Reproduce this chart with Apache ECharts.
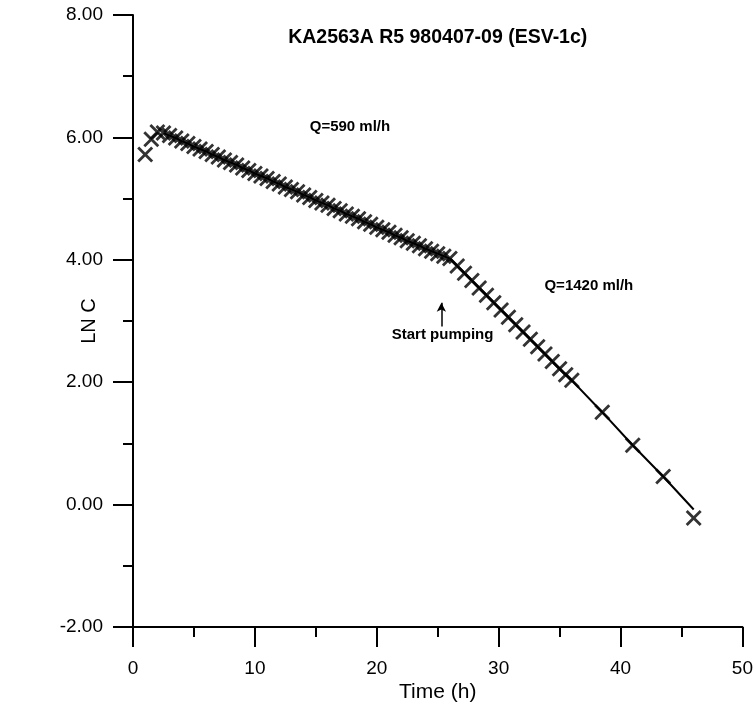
<!DOCTYPE html>
<html>
<head>
<meta charset="utf-8">
<script src="https://cdn.jsdelivr.net/npm/echarts@6/dist/echarts.min.js"></script>
<style>
  html, body { margin: 0; padding: 0; background: #fff; }
  #chart { width: 756px; height: 709px; }
</style>
</head>
<body>
<div id="chart"></div>
<script>
// Tracer concentration (natural log) versus time, KA2563A R5
const timeH = [
  1.0, 1.5, 2.0,
  2.5, 3.0, 3.5, 4.0, 4.5, 5.0, 5.5, 6.0, 6.5, 7.0, 7.5, 8.0, 8.5, 9.0, 9.5, 10.0,
  10.5, 11.0, 11.5, 12.0, 12.5, 13.0, 13.5, 14.0, 14.5, 15.0, 15.5, 16.0, 16.5, 17.0,
  17.5, 18.0, 18.5, 19.0, 19.5, 20.0, 20.5, 21.0, 21.5, 22.0, 22.5, 23.0, 23.5, 24.0,
  24.5, 25.0, 25.5, 26.0,
  26.6, 27.2, 27.8, 28.4, 29.0, 29.6, 30.2, 30.8, 31.4, 32.0, 32.6, 33.2, 33.8, 34.4,
  35.0, 35.5, 36.0,
  38.5, 41.0, 43.5, 46.0
];
const lnC = [
  5.72, 5.97, 6.09,
  6.07, 6.03, 5.99, 5.94, 5.90, 5.85, 5.81, 5.77, 5.72, 5.68, 5.63, 5.59, 5.55, 5.50, 5.46, 5.41,
  5.37, 5.33, 5.28, 5.24, 5.19, 5.15, 5.11, 5.06, 5.02, 4.97, 4.93, 4.89, 4.84, 4.80,
  4.75, 4.71, 4.67, 4.62, 4.58, 4.53, 4.49, 4.45, 4.40, 4.36, 4.31, 4.27, 4.23, 4.18,
  4.14, 4.10, 4.06, 4.02,
  3.90, 3.78, 3.66, 3.54, 3.42, 3.30, 3.18, 3.06, 2.94, 2.82, 2.70, 2.58, 2.46, 2.34,
  2.22, 2.12, 2.03,
  1.51, 0.97, 0.46, -0.22
];
// the connecting line starts at the first regular sample and ends short of the last one
const lineStartIndex = 3;
const lineEnd = [46.0, -0.08];

// axis ticks
const yTicks = [-2, 0, 2, 4, 6, 8];
const xTicks = [0, 10, 20, 30, 40, 50];

// annotations
const titleText = 'KA2563A R5 980407-09 (ESV-1c)';
const notes = [
  { text: 'Q=590 ml/h', at: [17.8, 6.17] },
  { text: 'Q=1420 ml/h', at: [37.4, 3.58] },
  { text: 'Start pumping', at: [25.4, 2.78] }
];
const pumpArrow = { x: 25.3, from: 2.91, to: 3.30 };

const points = timeH.map((t, i) => [t, lnC[i]]);
const linePts = points.slice(lineStartIndex, points.length - 1).concat([lineEnd]);

const FONT = '"Liberation Sans", Arial, sans-serif';
// diagonal cross marker with solid arms
const crossPath = 'path://M0,2.5L2.5,0L10,7.5L17.5,0L20,2.5L12.5,10L20,17.5L17.5,20L10,12.5L2.5,20L0,17.5L7.5,10Z';

const chart = echarts.init(document.getElementById('chart'), null, { renderer: 'canvas' });

const axisCommon = {
  axisLine: { show: true, onZero: false, lineStyle: { color: '#000', width: 2 } },
  axisTick: { show: true, inside: false, length: 20, lineStyle: { color: '#000', width: 2 } },
  minorTick: { show: true, splitNumber: 2, length: 10, lineStyle: { color: '#000', width: 2 } },
  splitLine: { show: false },
  minorSplitLine: { show: false }
};

chart.setOption({
  animation: false,
  backgroundColor: '#fff',
  grid: { left: 133, right: 12, top: 15, bottom: 82, containLabel: false },
  xAxis: Object.assign({
    type: 'value',
    min: xTicks[0], max: xTicks[xTicks.length - 1], interval: 10,
    name: 'Time (h)', nameLocation: 'middle', nameGap: 55, nameMoveOverlap: false,
    nameTextStyle: { fontFamily: FONT, fontSize: 21, color: '#000' },
    axisLabel: { margin: 32, fontFamily: FONT, fontSize: 19, color: '#000' }
  }, axisCommon),
  yAxis: Object.assign({
    type: 'value',
    min: yTicks[0], max: yTicks[yTicks.length - 1], interval: 2,
    name: 'LN C', nameLocation: 'middle', nameGap: 34, nameMoveOverlap: false,
    nameTextStyle: { fontFamily: FONT, fontSize: 20, color: '#000' },
    axisLabel: { margin: 30, fontFamily: FONT, fontSize: 19, color: '#000',
      formatter: v => v.toFixed(2) }
  }, axisCommon),
  series: [
    {
      type: 'line',
      data: linePts,
      showSymbol: false,
      symbol: 'none',
      lineStyle: { color: '#000', width: 2 },
      z: 2,
      markLine: {
        silent: true,
        symbol: ['none', 'arrow'],
        symbolSize: [7, 9],
        label: { show: false },
        lineStyle: { color: '#000', width: 1.5, type: 'solid' },
        data: [[{ coord: [pumpArrow.x, pumpArrow.from] }, { coord: [pumpArrow.x, pumpArrow.to] }]]
      }
    },
    {
      type: 'scatter',
      data: points,
      symbol: crossPath,
      symbolSize: 16,
      itemStyle: { color: '#000' },
      z: 3
    }
  ]
});

// title centred over the plot, notes placed in data coordinates
function place() {
  const grid = chart.getModel().getComponent('grid').coordinateSystem.getRect();
  const els = [{
    type: 'text', x: grid.x + grid.width / 2, y: 38,
    style: { text: titleText, font: 'bold 19.5px ' + FONT, fill: '#000', align: 'center', verticalAlign: 'middle' }
  }];
  notes.forEach(n => {
    const p = chart.convertToPixel({ gridIndex: 0 }, n.at);
    els.push({
      type: 'text', x: p[0], y: p[1],
      style: { text: n.text, font: 'bold 15px ' + FONT, fill: '#000', align: 'center', verticalAlign: 'middle' }
    });
  });
  chart.setOption({ graphic: els });
}
place();
</script>
</body>
</html>
